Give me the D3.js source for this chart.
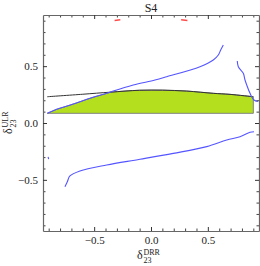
<!DOCTYPE html>
<html>
<head>
<meta charset="utf-8">
<script src="https://cdn.jsdelivr.net/npm/d3@7"></script>
<style>
  body { margin: 0; background: #fff; }
  svg text { font-family: "Liberation Serif", "DejaVu Serif", serif; fill: #222; }
</style>
</head>
<body>
<svg id="chart" width="260" height="266"></svg>
<script>
// values (x = delta23 DRR, y = delta23 ULR)
const majorTicks = [-0.5, 0, 0.5];
const tickLabels = ['\u22120.5', '0.0', '0.5'];
const minorTicks = [-0.9, -0.8, -0.7, -0.6, -0.4, -0.3, -0.2, -0.1,
                    0.1, 0.2, 0.3, 0.4, 0.6, 0.7, 0.8, 0.9];

// allowed region (green), bounded below by a flat edge
const greenTop = [[-0.912, 0.085], [-0.83, 0.12], [-0.683, 0.167], [-0.537, 0.217],
                  [-0.39, 0.261], [-0.36, 0.271], [-0.2, 0.283], [-0.1, 0.288],
                  [0.1, 0.289], [0.314, 0.281], [0.548, 0.261], [0.695, 0.252],
                  [0.90, 0.231]];
const greenBottom = [[0.90, 0.085], [-0.912, 0.085]];

// black contour
const blackLine = [[-0.913, 0.231], [-0.6, 0.253], [-0.36, 0.271], [-0.1, 0.288],
                   [0.1, 0.289], [0.314, 0.281], [0.548, 0.261], [0.695, 0.252],
                   [0.90, 0.231]];

// blue contours
const blueUpper = [[-0.912, 0.085], [-0.83, 0.12], [-0.683, 0.167], [-0.537, 0.217],
                   [-0.39, 0.261], [-0.332, 0.281], [-0.156, 0.334], [0.035, 0.378],
                   [0.138, 0.407], [0.431, 0.495], [0.548, 0.554], [0.592, 0.598],
                   [0.613, 0.642], [0.636, 0.686]];
const blueRight = [[0.759, 0.545], [0.768, 0.495], [0.812, 0.437], [0.827, 0.378],
                   [0.842, 0.334], [0.871, 0.261], [0.906, 0.202], [0.94, 0.19]];
const blueLower = [[-0.757, -0.560], [-0.736, -0.516], [-0.713, -0.466], [-0.625, -0.422],
                   [-0.39, -0.369], [-0.097, -0.319], [0.196, -0.267], [0.490, -0.208],
                   [0.666, -0.150], [0.783, -0.121], [0.871, -0.082], [0.906, -0.077]];
const blueStub = [[-0.905, -0.298], [-0.9, -0.318]];

// red dashes near the top
const redDashes = [[[-0.32, 0.902], [-0.27, 0.908]],
                   [[0.265, 0.908], [0.32, 0.902]]];

class ContourPlot
{
  constructor(svgId)
  {
    this.svg = d3.select(svgId);
    this.left = 43;
    this.right = 259;
    this.top = 15;
    this.bottom = 231;

    this.scaleX = d3.scaleLinear().domain([-0.95, 0.95]).range([this.left, this.right]);
    this.scaleY = d3.scaleLinear().domain([-0.95, 0.95]).range([this.bottom, this.top]);

    this.line = d3.line()
                  .x(d => this.scaleX(d[0]))
                  .y(d => this.scaleY(d[1]))
                  .curve(d3.curveCatmullRom);
  }

  draw()
  {
    this.drawRegion();
    this.drawCurves();
    this.drawAxes();
    this.drawLabels();
  }

  drawRegion()
  {
    let poly = d3.line()
                 .x(d => this.scaleX(d[0]))
                 .y(d => this.scaleY(d[1]));
    this.svg.append('path')
        .attr('d', poly([...greenTop, ...greenBottom]) + 'Z')
        .attr('fill', '#b3df1f')
        .attr('stroke', '#777')
        .attr('stroke-width', 0.9);
  }

  drawCurves()
  {
    this.svg.append('path')
        .attr('d', this.line(blackLine))
        .attr('fill', 'none')
        .attr('stroke', '#333')
        .attr('stroke-width', 1);

    for (let curve of [blueUpper, blueRight, blueLower, blueStub])
    {
      this.svg.append('path')
          .attr('d', this.line(curve))
          .attr('fill', 'none')
          .attr('stroke', '#5555ff')
          .attr('stroke-width', 1.1);
    }

    this.svg.selectAll('.dash')
        .data(redDashes)
        .join('path')
        .attr('class', 'dash')
        .attr('d', d => this.line(d))
        .attr('fill', 'none')
        .attr('stroke', '#ff4a4a')
        .attr('stroke-width', 1.4);
  }

  drawAxes()
  {
    let fmt = d => tickLabels[majorTicks.indexOf(d)];
    let sides = [
      { axis: d3.axisBottom(this.scaleX), at: `translate(0,${this.bottom})`, labels: true },
      { axis: d3.axisTop(this.scaleX), at: `translate(0,${this.top})`, labels: false },
      { axis: d3.axisLeft(this.scaleY), at: `translate(${this.left},0)`, labels: true },
      { axis: d3.axisRight(this.scaleY), at: `translate(${this.right},0)`, labels: false },
    ];

    for (let side of sides)
    {
      // minor ticks first, then the major ones with labels
      let minor = this.svg.append('g').attr('transform', side.at)
                      .call(side.axis.tickValues(minorTicks).tickSizeInner(-2.5)
                                .tickSizeOuter(0).tickFormat(''));
      minor.select('.domain').remove();
      minor.selectAll('line').attr('stroke', '#444');

      let major = this.svg.append('g').attr('transform', side.at)
                      .call(side.axis.tickValues(majorTicks).tickSizeInner(-4)
                                .tickSizeOuter(0).tickPadding(5)
                                .tickFormat(side.labels ? fmt : ''));
      major.select('.domain').attr('stroke', '#666').attr('stroke-width', 1.2);
      major.selectAll('line').attr('stroke', '#333');
      major.selectAll('text')
          .style('font-family', '"Liberation Serif", serif')
          .style('font-size', '11px')
          .attr('fill', '#222');
    }
  }

  drawLabels()
  {
    this.svg.append('text')
        .attr('x', (this.left + this.right) / 2)
        .attr('y', 12)
        .attr('text-anchor', 'middle')
        .style('font-size', '12px')
        .text('S4');

    // delta with stacked sub/superscripts
    let symbol = (g, sup) => {
      g.append('text').attr('x', -9).attr('y', 0).style('font-size', '12px').text('\u03b4');
      g.append('text').attr('x', -2.5).attr('y', -4).style('font-size', '8px').text(sup);
      g.append('text').attr('x', -2.5).attr('y', 4).style('font-size', '8px').text('23');
    };

    let xLabel = this.svg.append('g').attr('transform', 'translate(146,259)');
    symbol(xLabel, 'DRR');

    let yLabel = this.svg.append('g').attr('transform', 'translate(12,125) rotate(-90)');
    symbol(yLabel, 'ULR');
  }
}

new ContourPlot('#chart').draw();
</script>
</body>
</html>
